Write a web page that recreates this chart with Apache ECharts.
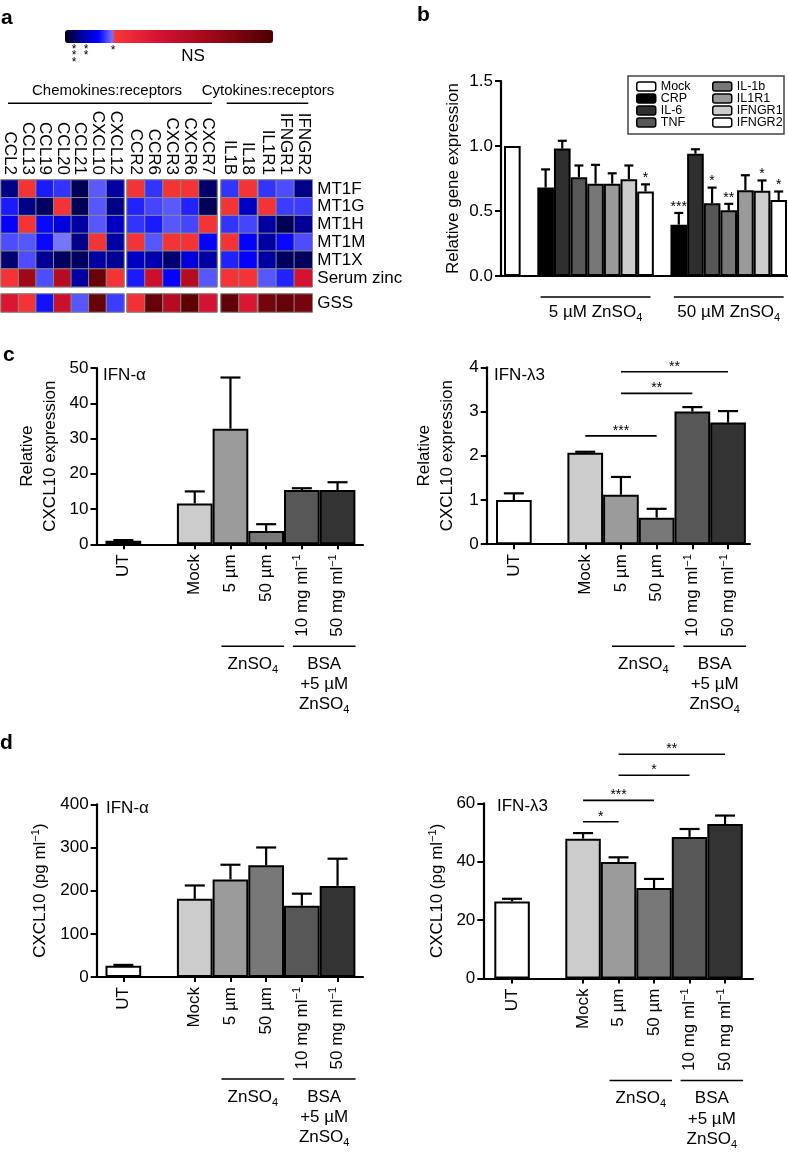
<!DOCTYPE html>
<html><head><meta charset="utf-8">
<script src="https://cdn.jsdelivr.net/npm/echarts@6/dist/echarts.min.js"></script>
<style>html,body{margin:0;padding:0;background:#fff}#c{width:788px;height:1153px}</style>
</head><body><div id="c"></div>
<script>
// ===================== DATA =====================
// panel a – heat map (values = position on the colour bar: 0 = *** … 1 = NS)
const heatCols = ['CCL2','CCL13','CCL19','CCL20','CCL21','CXCL10','CXCL12','CCR2','CCR6','CXCR3','CXCR6','CXCR7','IL1B','IL18','IL1R1','IFNGR1','IFNGR2'];
const heatRows = ['MT1F','MT1G','MT1H','MT1M','MT1X','Serum zinc'];
const gssLabel = ['GSS'];
const heatMT1F = [0.065,0.26,0.175,0.19,0.035,0.212,0.085, 0.26,0.19,0.26,0.26,0.045, 0.19,0.26, 0.19,0.205,0.065];
const heatMT1G = [0.175,0.065,0.04,0.26,0.035,0.21,0.065, 0.18,0.2,0.212,0.18,0.035, 0.26,0.11, 0.26,0.195,0.195];
const heatMT1H = [0.16,0.26,0.165,0.13,0.085,0.21,0.11, 0.19,0.175,0.21,0.2,0.26, 0.19,0.2, 0.085,0.035,0.075];
const heatMT1M = [0.205,0.21,0.165,0.228,0.065,0.26,0.085, 0.26,0.21,0.26,0.26,0.16, 0.26,0.16, 0.085,0.165,0.205];
const heatMT1X = [0.05,0.205,0.075,0.04,0.04,0.085,0.075, 0.11,0.095,0.05,0.13,0.085, 0.18,0.16, 0.085,0.04,0.04];
const heatSerumZinc = [0.26,0.7,0.205,0.6,0.085,0.9,0.26, 0.175,0.5,0.16,0.6,0.21, 0.26,0.26, 0.21,0.18,0.45];
const heatGSS = [0.42,0.26,0.17,0.5,0.21,0.9,0.195, 0.27,0.9,0.6,0.93,0.45, 0.92,0.42, 0.85,0.9,0.85];

// panel b
const bGenes = ['CRP','IL-6','TNF','IL-1b','IL1R1','IFNGR1','IFNGR2'];
const bMock = 1.0;
const bZn5 = [0.68,0.98,0.76,0.71,0.71,0.745,0.65];
const bZn5Err = [0.82,1.04,0.85,0.855,0.79,0.85,0.705];
const bZn5Sig = ['','','','','','','*'];
const bZn50 = [0.395,0.94,0.56,0.505,0.66,0.655,0.585];
const bZn50Err = [0.485,0.975,0.68,0.555,0.775,0.735,0.65];
const bZn50Sig = ['***','','*','**','','*','*'];
const bGroupLabels = ['5 µM ZnSO', '50 µM ZnSO'];

// panels c, d
const cdCats = ['UT','','Mock','5 µm','50 µm','10 mg ml−1','50 mg ml−1'];
const cAlpha = [1.0,null,11.6,32.8,3.8,15.4,15.4];
const cAlphaErr = [1.2,null,15.0,47.3,5.7,15.9,17.6];
const cLambda = [1.0,null,2.07,1.12,0.6,3.0,2.75];
const cLambdaErr = [1.15,null,2.09,1.52,0.8,3.1,3.01];
const cLambdaSig = [[2,4,2.45,'***'],[3,5,3.41,'**'],[3,6,3.9,'**']];
const dAlpha = [26,null,181,226,259,165,211];
const dAlphaErr = [28,null,212,260,300,193,274];
const dLambda = [26.4,null,47.9,39.9,31.0,48.5,52.9];
const dLambdaErr = [27.3,null,49.8,41.5,34.1,51.2,55.8];
const dLambdaSig = [[2,3,53.7,'*'],[2,4,61.0,'***'],[3,5,69.6,'*'],[3,6,76.8,'**']];

// ===================== STYLE / LAYOUT =====================
const FONT = '"Liberation Sans", Arial, Helvetica, sans-serif';
const BLACK = '#000';
const vmStops = [[0,'#00001a'],[0.05,'#000070'],[0.10,'#0000b8'],[0.16,'#0000ff'],[0.23,'#7878ff'],[0.232,'#f83838'],[0.45,'#d41232'],[0.7,'#a00818'],[1,'#4a0000']];
function hex2rgb(h){return [1,3,5].map(i=>parseInt(h.substr(i,2),16));}
const vmColors=[];
for(let i=0;i<=240;i++){
  const t=i/240; let k=0;
  while(k<vmStops.length-2 && t>vmStops[k+1][0]) k++;
  const [t0,c0]=vmStops[k],[t1,c1]=vmStops[k+1];
  const f=Math.max(0,Math.min(1,(t-t0)/(t1-t0)));
  const a=hex2rgb(c0), b=hex2rgb(c1);
  vmColors.push('rgb('+a.map((v,j)=>Math.round(v+(b[j]-v)*f)).join(',')+')');
}
const bColors = {'Mock':'#ffffff','CRP':'#000000','IL-6':'#2f2f2f','TNF':'#575757','IL-1b':'#777777','IL1R1':'#9a9a9a','IFNGR1':'#cdcdcd','IFNGR2':'#ffffff'};
const cdColors = ['#ffffff',null,'#cccccc','#9b9b9b','#787878','#575757','#333333'];

const grids=[], xAxes=[], yAxes=[], series=[], heatSeries=[];
function pushGrid(g, xa, ya){
  const i=grids.length; grids.push(g);
  xAxes.push(Object.assign({gridIndex:i}, xa));
  yAxes.push(Object.assign({gridIndex:i}, ya));
  return i;
}
const lblBase = {color:BLACK, fontSize:17, fontFamily:FONT};

// ---------- panel a ----------
const blockRanges=[[0,7],[7,12],[12,14],[14,17]];
const blockPx=[[1,124],[127,217],[221,257],[258.3,312.3]];
const heatMatrix=[heatMT1F,heatMT1G,heatMT1H,heatMT1M,heatMT1X,heatSerumZinc];
const heatParts=[[180,106.8,heatRows,heatMatrix,true],[294,18,gssLabel,[heatGSS],false]];
blockRanges.forEach(([a,b],k)=>{
  heatParts.forEach(([top,h,rows,mat,isMain])=>{
    const gi=pushGrid({left:blockPx[k][0], top, width:blockPx[k][1]-blockPx[k][0], height:h, show:true, borderColor:'#8a8a8a', borderWidth:1},
      {type:'category', position:'top', data:heatCols.slice(a,b), axisLine:{show:false}, axisTick:{show:false}, splitLine:{show:false},
       axisLabel:Object.assign({show:isMain, rotate:90, interval:0, margin:5}, lblBase)},
      {type:'category', position:'right', inverse:true, data:rows, axisLine:{show:false}, axisTick:{show:false}, splitLine:{show:false},
       axisLabel:Object.assign({show:k===3, interval:0, margin:5}, lblBase)});
    const data=[];
    mat.forEach((row,r)=>{ for(let c=a;c<b;c++) data.push([c-a,r,row[c]]); });
    heatSeries.push(series.length);
    series.push({type:'heatmap', xAxisIndex:gi, yAxisIndex:gi, data, silent:true,
      itemStyle:{borderColor:'#8a8a8a', borderWidth:1}, emphasis:{disabled:true}});
  });
});

// ---------- error bar / significance helpers ----------
function errSeries(gi, data, sigs, capW){
  return {type:'custom', xAxisIndex:gi, yAxisIndex:gi, data, silent:true, clip:false, z:5,
    encode:{x:0, y:[1,2]},
    renderItem:(params, api)=>{
      const x=api.value(0), v=api.value(1), e=api.value(2);
      const p0=api.coord([x,v]), p1=api.coord([x,e]);
      const ch=[
        {type:'line', shape:{x1:p0[0],y1:p0[1],x2:p1[0],y2:p1[1]}, style:{stroke:BLACK,lineWidth:2.2}},
        {type:'line', shape:{x1:p1[0]-capW/2,y1:p1[1],x2:p1[0]+capW/2,y2:p1[1]}, style:{stroke:BLACK,lineWidth:2.2}}];
      const s=sigs && sigs[params.dataIndex];
      if(s) ch.push({type:'text', style:{text:s, x:p1[0], y:p1[1]+1, align:'center', verticalAlign:'bottom', fontSize:14, fontFamily:FONT, fill:BLACK}});
      return {type:'group', children:ch};
    }};
}
function sigSeries(gi, sig){
  return {type:'custom', xAxisIndex:gi, yAxisIndex:gi, silent:true, clip:false, z:6,
    data: sig.map(s=>[s[0], s[2]]),
    renderItem:(params, api)=>{
      const s=sig[params.dataIndex];
      const p1=api.coord([s[0],s[2]]), p2=api.coord([s[1],s[2]]);
      return {type:'group', children:[
        {type:'line', shape:{x1:p1[0],y1:p1[1],x2:p2[0],y2:p2[1]}, style:{stroke:BLACK,lineWidth:1.6}},
        {type:'text', style:{text:s[3], x:(p1[0]+p2[0])/2, y:p1[1]+2, align:'center', verticalAlign:'bottom', fontSize:14, fontFamily:FONT, fill:BLACK}}]};
    }};
}

// ---------- panel b ----------
const bCats = ['Mock','', ...bGenes.map(g=>'5 µM '+g), ' ', ...bGenes.map(g=>'50 µM '+g)];
pushGrid({left:501, top:81, width:286, height:195},
  {type:'value', min:0, max:1, axisLine:{show:true, onZero:false, lineStyle:{color:BLACK,width:2.2}}, axisTick:{show:false}, axisLabel:{show:false}, splitLine:{show:false}},
  {type:'value', min:0, max:1, show:false});
const bGrid = pushGrid({left:504, top:81, width:283, height:195},
  {type:'category', data:bCats, axisLine:{show:false}, axisTick:{show:false}, axisLabel:{show:false}},
  {type:'value', min:0, max:1.5, interval:0.5, offset:3,
   axisLine:{show:true, lineStyle:{color:BLACK,width:2.2}}, axisTick:{show:true,length:6,lineStyle:{color:BLACK,width:2}},
   axisLabel:Object.assign({formatter:v=>v.toFixed(1), margin:8}, lblBase), splitLine:{show:false},
   name:'Relative gene expression', nameLocation:'middle', nameGap:39, nameTextStyle:Object.assign({}, lblBase)});
['Mock',...bGenes].forEach(name=>{
  const data=bCats.map(()=>'-');
  if(name==='Mock') data[0]=bMock;
  else { const i=bGenes.indexOf(name); data[2+i]=bZn5[i]; data[10+i]=bZn50[i]; }
  series.push({type:'bar', name, xAxisIndex:bGrid, yAxisIndex:bGrid, data, barWidth:'100%', barGap:'-100%', silent:true,
    itemStyle:{color:bColors[name], borderColor:BLACK, borderWidth:2}, emphasis:{disabled:true}});
});
const bErrData=[], bErrSig=[];
bGenes.forEach((g,i)=>{ bErrData.push([2+i,bZn5[i],bZn5Err[i]]); bErrSig.push(bZn5Sig[i]); });
bGenes.forEach((g,i)=>{ bErrData.push([10+i,bZn50[i],bZn50Err[i]]); bErrSig.push(bZn50Sig[i]); });
series.push(errSeries(bGrid, bErrData, bErrSig, 9));

// ---------- panels c, d ----------
const richLbl = {n:{fontSize:17, fontFamily:FONT, color:BLACK, lineHeight:20}, p:{fontSize:11, fontFamily:FONT, color:BLACK, verticalAlign:'top', lineHeight:10}};
const cdPanels = [
  {axisX:96.5, top:368, zero:544.3, pad:9, slot:35.7, frameRight:363, max:50, interval:10, vals:cAlpha, errs:cAlphaErr, sig:null,
   name:'Relative\nCXCL10 expression', nameGap:35, title:'IFN-α', tx:103, ty:375},
  {axisX:486.7, top:367.3, zero:544.2, pad:9.3, slot:35.7, frameRight:750, max:4, interval:1, vals:cLambda, errs:cLambdaErr, sig:cLambdaSig,
   name:'Relative\nCXCL10 expression', nameGap:28, title:'IFN-λ3', tx:494, ty:375},
  {axisX:96.7, top:804.3, zero:977, pad:8.8, slot:35.7, frameRight:363, max:400, interval:100, vals:dAlpha, errs:dAlphaErr, sig:null,
   name:'{n|CXCL10 (pg ml}{p|−1}{n|)}', nameGap:46, title:'IFN-α', tx:106, ty:808},
  {axisX:483.3, top:803.3, zero:978.5, pad:11, slot:35.5, frameRight:753, max:60, interval:20, vals:dLambda, errs:dLambdaErr, sig:dLambdaSig,
   name:'{n|CXCL10 (pg ml}{p|−1}{n|)}', nameGap:36, title:'IFN-λ3', tx:497, ty:806}
];
cdPanels.forEach(o=>{
  const h=o.zero-o.top;
  pushGrid({left:o.axisX, top:o.top, width:o.frameRight-o.axisX, height:h},
    {type:'value', min:0, max:1, axisLine:{show:true, onZero:false, lineStyle:{color:BLACK,width:2.2}}, axisTick:{show:false}, axisLabel:{show:false}, splitLine:{show:false}},
    {type:'value', min:0, max:1, show:false});
  const gi=pushGrid({left:o.axisX+o.pad, top:o.top, width:o.slot*cdCats.length, height:h},
    {type:'category', data:cdCats, axisLine:{show:false},
     axisTick:{show:true, alignWithLabel:true, interval:(i,v)=>v!=='', length:5, lineStyle:{color:BLACK,width:2}},
     axisLabel:{rotate:90, interval:0, margin:10, color:BLACK, fontSize:17, fontFamily:FONT,
       formatter:v=>!v?'':(v.endsWith('−1')?'{n|'+v.slice(0,-2)+'}{p|−1}':'{n|'+v+'}'), rich:richLbl}},
    {type:'value', min:0, max:o.max, interval:o.interval, offset:o.pad,
     axisLine:{show:true, lineStyle:{color:BLACK,width:2.2}}, axisTick:{show:true,length:6,lineStyle:{color:BLACK,width:2}},
     axisLabel:Object.assign({margin:8}, lblBase), splitLine:{show:false},
     name:o.name, nameLocation:'middle', nameGap:o.nameGap,
     nameTextStyle:Object.assign({lineHeight:23, rich:richLbl}, lblBase)});
  o.gi=gi;
  series.push({type:'bar', xAxisIndex:gi, yAxisIndex:gi, barWidth:'100%', silent:true, emphasis:{disabled:true},
    itemStyle:{borderColor:BLACK, borderWidth:2},
    data:o.vals.map((v,i)=>v==null?'-':{value:v, itemStyle:{color:cdColors[i]}})});
  const ed=[]; o.vals.forEach((v,i)=>{ if(v!=null) ed.push([i,v,o.errs[i]]); });
  series.push(errSeries(gi, ed, null, 20));
  if(o.sig) series.push(sigSeries(gi, o.sig));
});

const legendCommon = {orient:'vertical', top:80, itemWidth:19, itemHeight:9, itemGap:-1, padding:0, selectedMode:false,
  itemStyle:{borderWidth:1.5}, textStyle:{fontSize:12.5, lineHeight:9, fontFamily:FONT, color:BLACK}};

const option = {
  animation:false, backgroundColor:'#fff',
  grid:grids, xAxis:xAxes, yAxis:yAxes, series,
  visualMap:{type:'continuous', min:0, max:1, seriesIndex:heatSeries, orient:'horizontal', left:65, top:30,
    itemWidth:13, itemHeight:208, calculable:false, hoverLink:false, padding:0, inRange:{color:vmColors}},
  legend:[Object.assign({left:636, data:['Mock','CRP','IL-6','TNF']}, legendCommon),
          Object.assign({left:712, data:['IL-1b','IL1R1','IFNGR1','IFNGR2']}, legendCommon)]
};

const chart = echarts.init(document.getElementById('c'), null, {width:788, height:1153});
chart.setOption(option);

// ---------- annotations ----------
const T = (text,x,y,opt)=>Object.assign({type:'text', silent:true, style:Object.assign({text, x, y, fontSize:17, fontFamily:FONT, fill:BLACK, align:'left', verticalAlign:'middle'}, opt||{})});
const L = (x1,y1,x2,y2,w)=>({type:'line', silent:true, shape:{x1,y1,x2,y2}, style:{stroke:BLACK, lineWidth:w||1.6}});
const subRich = {n:{fontSize:17, fontFamily:FONT, fill:BLACK, color:BLACK, lineHeight:22}, s:{fontSize:11, fontFamily:FONT, fill:BLACK, color:BLACK, verticalAlign:'bottom', lineHeight:11}};
const G = [];
// panel letters
G.push(T('a',1,18,{fontSize:21, fontWeight:'bold'}), T('b',417,15,{fontSize:21, fontWeight:'bold'}),
       T('c',3,355,{fontSize:21, fontWeight:'bold'}), T('d',0,743,{fontSize:21, fontWeight:'bold'}));
// colour-bar key
G.push(T('*\n*\n*',74,56,{fontSize:12, align:'center', lineHeight:6.3}), T('*\n*',86,53,{fontSize:12, align:'center', lineHeight:6.3}),
       T('*',113,51,{fontSize:12, align:'center'}), T('NS',193,56,{align:'center'}));
// heat map headers
G.push(T('Chemokines:receptors',107,91,{fontSize:15, align:'center'}), L(8,103.3,212,103.3,1.5),
       T('Cytokines:receptors',268,91,{fontSize:15, align:'center'}), L(226.7,103.3,308.3,103.3,1.5));
// legend frame (panel b)
G.push({type:'rect', silent:true, shape:{x:628,y:76,width:156,height:58}, style:{fill:'none', stroke:'#444', lineWidth:1.5}});
// panel b group labels
const bx = i=>chart.convertToPixel({xAxisIndex:bGrid}, i);
[[2,8],[10,16]].forEach(([a,b],k)=>{
  const x1=bx(a)-5, x2=bx(b)+5;
  G.push(L(x1,297,x2,297,1.5));
  G.push({type:'text', silent:true, style:{text:'{n|'+bGroupLabels[k]+'}{s|4}', rich:subRich, x:(x1+x2)/2, y:312, align:'center', verticalAlign:'middle'}});
});
// panels c, d titles and group labels
cdPanels.forEach(o=>{
  G.push(T(o.title,o.tx,o.ty));
  const cx = i=>chart.convertToPixel({xAxisIndex:o.gi}, i);
  const ly = o.zero+102;
  const z1=cx(3)-9, z2=cx(4)+18, b1=cx(5)-9, b2=cx(6)+18;
  G.push(L(z1,ly,z2,ly,1.5), L(b1,ly,b2,ly,1.5));
  G.push({type:'text', silent:true, style:{text:'{n|ZnSO}{s|4}', rich:subRich, x:(z1+z2)/2, y:ly+18, align:'center', verticalAlign:'middle'}});
  G.push(T('BSA',(b1+b2)/2,ly+18,{align:'center'}), T('+5 µM',(b1+b2)/2,ly+38.5,{align:'center'}));
  G.push({type:'text', silent:true, style:{text:'{n|ZnSO}{s|4}', rich:subRich, x:(b1+b2)/2, y:ly+58.5, align:'center', verticalAlign:'middle'}});
});
chart.setOption({graphic:G});
</script></body></html>
